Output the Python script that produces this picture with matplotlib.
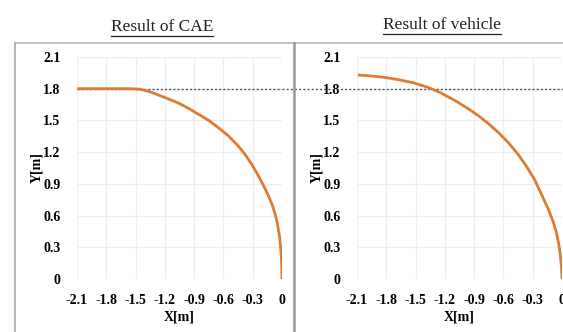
import matplotlib
matplotlib.use("Agg")
import matplotlib.pyplot as plt
from matplotlib.lines import Line2D

# Trajectory (X[m], Y[m])
cae_x = [-2.10, -1.80, -1.55, -1.45, -1.35, -1.25, -1.15, -1.05, -0.95, -0.85,
         -0.75, -0.65, -0.55, -0.45, -0.38, -0.31, -0.25, -0.19, -0.14, -0.10,
         -0.07, -0.045, -0.025, -0.01, -0.003, 0.0]
cae_y = [1.80, 1.80, 1.80, 1.795, 1.77, 1.735, 1.698, 1.66, 1.61, 1.555,
         1.50, 1.43, 1.355, 1.26, 1.18, 1.085, 0.99, 0.885, 0.79, 0.70,
         0.615, 0.515, 0.40, 0.26, 0.13, 0.0]

veh_x = [-2.09, -1.95, -1.80, -1.66, -1.52, -1.38, -1.25, -1.10, -0.95, -0.85,
         -0.76, -0.65, -0.55, -0.45, -0.36, -0.28, -0.20, -0.14, -0.09, -0.06,
         -0.035, -0.02, -0.01, -0.004, 0.0]
veh_y = [1.93, 1.92, 1.905, 1.883, 1.855, 1.815, 1.765, 1.69, 1.605, 1.54,
         1.475, 1.385, 1.29, 1.18, 1.06, 0.94, 0.78, 0.66, 0.54, 0.45,
         0.34, 0.25, 0.16, 0.09, 0.0]

ref_y = 1.8
ticks = [-2.1, -1.8, -1.5, -1.2, -0.9, -0.6, -0.3, 0]
yticks = [0, 0.3, 0.6, 0.9, 1.2, 1.5, 1.8, 2.1]
titles = ["Result of CAE", "Result of vehicle"]

W, H = 563, 332
plt.rcParams["font.family"] = ["Liberation Serif", "DejaVu Serif"]

fig = plt.figure(figsize=(W / 100, H / 100), dpi=100)


def fx(px):
    return px / W


def fy(py):
    return 1 - py / H


panels = [
    (77, 282, cae_x, cae_y, 162, 27),
    (357, 562, veh_x, veh_y, 442, 25),
]

axes = []
for (x0, x1, xs, ys, tx, ty), title in zip(panels, titles):
    ax = fig.add_axes([fx(x0), fy(279), fx(x1 - x0), fy(57) - fy(279)])
    ax.set_xlim(-2.1, 0)
    ax.set_ylim(0, 2.1)
    ax.set_xticks(ticks)
    ax.set_yticks(yticks)
    ax.set_xticklabels([f"{t:g}" for t in ticks], fontsize=10, fontweight="bold")
    ax.set_yticklabels([f"{t:g}" for t in yticks], fontsize=10, fontweight="bold")
    ax.tick_params(length=0, pad=11)
    ax.tick_params(axis="y", pad=12)
    for s in ax.spines.values():
        s.set_visible(False)
    ax.grid(True, color="#ebeef2", lw=0.9)
    ax.set_axisbelow(True)
    ax.plot(xs, ys, color="#e07b34", lw=2.0, solid_joinstyle="round",
            solid_capstyle="butt", zorder=3)
    ax.set_xlabel("X[m]", fontsize=10, fontweight="bold", labelpad=2)
    ax.set_ylabel("Y[m]", fontsize=10, fontweight="bold", labelpad=0)
    t = fig.text(fx(tx), fy(ty), title, fontsize=12.5, ha="center", va="center",
                 color="#222222")
    axes.append((ax, t))

# dotted reference line at Y=1.8 running across both panels
axl, axr = axes[0][0], axes[1][0]
axl.axhline(ref_y, xmin=0, xmax=1.0, color="#555555", lw=1.0,
            ls=(0, (1.5, 1.5)), zorder=2)
axr.axhline(ref_y, xmin=(282 - 357) / 205, xmax=(W - 357) / 205, color="#555555",
            lw=1.0, ls=(0, (1.5, 1.5)), zorder=2, clip_on=False)

# underline the titles
fig.canvas.draw()
r = fig.canvas.get_renderer()
for ax, t in axes:
    bb = t.get_window_extent(r)
    yy = bb.y0 - 1
    fig.add_artist(Line2D([bb.x0 / W, bb.x1 / W], [yy / H, yy / H],
                          color="#222222", lw=0.9))

# panel frame lines
frame = "#b8b8b8"
fig.add_artist(Line2D([fx(15), fx(W)], [fy(43), fy(43)], color=frame, lw=1.2))
fig.add_artist(Line2D([fx(15), fx(15)], [fy(43), 0], color=frame, lw=1.5))
fig.add_artist(Line2D([fx(294), fx(294)], [fy(43), 0], color="#9a9a9a", lw=1.8))

fig.savefig("out.png", dpi=100)
